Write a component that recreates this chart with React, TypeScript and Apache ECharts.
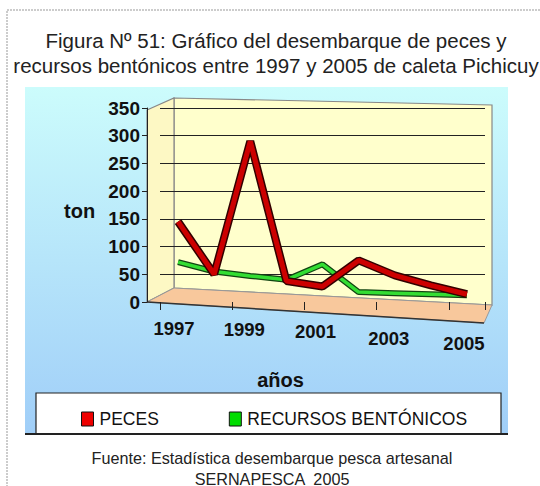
import React, { useEffect, useRef } from "react";
import * as echarts from "echarts";

const years = ["1997", "1998", "1999", "2000", "2001", "2002", "2003", "2004", "2005"];
const peces = [145, 50, 290, 38, 28, 75, 48, 30, 14];
const bentonicos = [72, 55, 47, 40, 68, 18, 16, 14, 12];
const yTicks = [0, 50, 100, 150, 200, 250, 300, 350];

export default function App() {
  const ref = useRef<HTMLDivElement>(null);
  useEffect(() => {
    if (!ref.current) return;
    const chart = echarts.init(ref.current, undefined, { renderer: "svg" });
    const font = "'Liberation Sans', Arial, sans-serif";
    const xl = { fontSize: 18.5, fontWeight: "bold", color: "#111", fontFamily: font };
    chart.setOption({
      animation: false,
      backgroundColor: "#ffffff",
      textStyle: { fontFamily: font },
      title: [
        {
          text: "Figura Nº 51: Gráfico del desembarque de peces y\nrecursos bentónicos entre 1997 y 2005 de caleta Pichicuy",
          left: 271,
          top: 23,
          textAlign: "center",
          textStyle: { fontSize: 20.5, fontWeight: "normal", color: "#222", lineHeight: 25, fontFamily: font },
        },
        {
          text: "Fuente: Estadística desembarque pesca artesanal\nSERNAPESCA  2005",
          left: 267,
          top: 442,
          textAlign: "center",
          textStyle: { fontSize: 16.2, fontWeight: "normal", color: "#222", lineHeight: 21, fontFamily: font },
        },
      ],
      graphic: [
        {
          type: "rect",
          shape: { x: 7, y: 10, width: 600, height: 600 },
          style: { fill: "none", stroke: "#999", lineWidth: 1, lineDash: [2, 1] },
          z: -10,
        },
        {
          type: "rect",
          shape: { x: 25, y: 87, width: 483, height: 347 },
          style: {
            fill: new echarts.graphic.LinearGradient(0, 0, 0, 1, [
              { offset: 0, color: "#ccfcfc" },
              { offset: 1, color: "#a0cef8" },
            ]),
          },
          z: -9,
        },
        {
          type: "polygon",
          shape: { points: [[174, 98], [492, 105], [492, 305], [174, 288]] },
          style: { fill: "#ffffcc", stroke: "#888", lineWidth: 1.2 },
          z: -6,
        },
        {
          type: "polygon",
          shape: { points: [[147, 110], [174, 98], [174, 288], [147, 302]] },
          style: { fill: "#fdf8c4", stroke: "#888", lineWidth: 1.2 },
          z: -5,
        },
        {
          type: "polygon",
          shape: { points: [[147, 302], [174, 288], [492, 305], [484, 323]] },
          style: { fill: "#f8c89c", stroke: "#999", lineWidth: 1 },
          z: -4,
        },
        {
          type: "line",
          shape: { x1: 147, y1: 302, x2: 484, y2: 323 },
          style: { stroke: "#333", lineWidth: 1.5 },
          z: -3,
        },
        {
          type: "rect",
          shape: { x: 36, y: 393, width: 465, height: 41 },
          style: { fill: "#ffffff", stroke: "#222", lineWidth: 1.2 },
          z: -4,
        },
        {
          type: "line",
          shape: { x1: 25, y1: 434, x2: 508, y2: 434 },
          style: { stroke: "#222", lineWidth: 2 },
          z: -3,
        },
        {
          type: "text",
          x: 64,
          y: 201,
          style: { text: "ton", fontSize: 20, fontWeight: "bold", fill: "#111", fontFamily: font },
        },
      ],
      legend: {
        data: [
          { name: "PECES", itemStyle: { color: "#ee0000", borderColor: "#111", borderWidth: 1 } },
          { name: "RECURSOS BENTÓNICOS", itemStyle: { color: "#00dd00", borderColor: "#111", borderWidth: 1 } },
        ],
        left: 76,
        top: 405,
        icon: "rect",
        itemWidth: 12,
        itemHeight: 14,
        itemGap: 70,
        textStyle: { fontSize: 17.5, color: "#111", fontFamily: font, padding: [0, 0, 0, 1] },
      },
      grid: {
        left: 160,
        right: 55,
        top: 108,
        bottom: 184,
        show: false,
      },
      xAxis: {
        type: "category",
        data: years,
        boundaryGap: true,
        name: "años",
        nameLocation: "middle",
        nameGap: 68,
        nameTextStyle: { fontSize: 20, fontWeight: "bold", color: "#111", fontFamily: font, padding: [0, 84, 0, 0] },
        axisLine: { show: false },
        axisTick: { show: true, alignWithLabel: false, length: 8, lineStyle: { color: "#222" } },
        axisLabel: {
          interval: 1,
          margin: 17,
          ...xl,
          formatter: (v: string) => `{l${v}|${v}}`,
          rich: {
            l1997: { ...xl, padding: [0, 8, 0, 0] },
            l1999: { ...xl, padding: [1, 12, 0, 0] },
            l2001: { ...xl, padding: [3, 14, 0, 0] },
            l2003: { ...xl, padding: [10, 12, 0, 0] },
            l2005: { ...xl, padding: [15, 6, 0, 0] },
          },
        },
      },
      yAxis: {
        type: "value",
        min: 0,
        max: 350,
        interval: 50,
        offset: 13,
        axisLine: { show: true, lineStyle: { color: "#222" } },
        axisTick: { show: true, length: 5, lineStyle: { color: "#222" } },
        axisLabel: {
          fontSize: 19,
          fontWeight: "bold",
          color: "#111",
          fontFamily: font,
          margin: 7,
          formatter: (v: number) => (yTicks.includes(v) ? String(v) : ""),
        },
        splitLine: { show: true, showMinLine: false, lineStyle: { color: "#222", width: 1 } },
      },
      series: [
        {
          name: "RECURSOS BENTÓNICOS-borde",
          type: "line",
          data: bentonicos,
          symbol: "none",
          lineStyle: { color: "#114411", width: 6 },
          z: 3,
          silent: true,
        },
        {
          name: "RECURSOS BENTÓNICOS",
          type: "line",
          data: bentonicos,
          symbol: "none",
          itemStyle: { color: "#00dd00" },
          lineStyle: { color: "#33dd33", width: 3.5 },
          z: 4,
        },
        {
          name: "PECES-borde",
          type: "line",
          data: peces,
          symbol: "none",
          lineStyle: { color: "#330000", width: 8 },
          z: 5,
          silent: true,
        },
        {
          name: "PECES",
          type: "line",
          data: peces,
          symbol: "none",
          itemStyle: { color: "#ee0000" },
          lineStyle: { color: "#cc0000", width: 5 },
          z: 6,
        },
      ],
    });
    return () => chart.dispose();
  }, []);
  return (
    <div
      ref={ref}
      style={{ position: "fixed", left: 0, top: 0, width: 540, height: 486 }}
    />
  );
}
